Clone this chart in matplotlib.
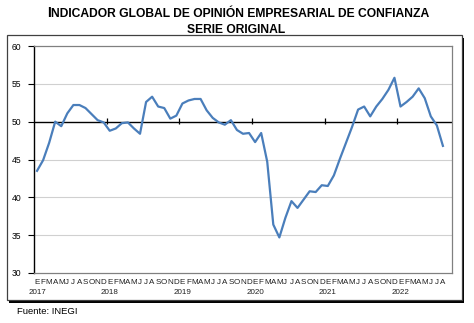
import matplotlib
matplotlib.use("Agg")
import matplotlib.pyplot as plt
from matplotlib.patches import Rectangle
import matplotlib.transforms as mtransforms

plt.rcParams['font.family'] = ['Liberation Sans', 'DejaVu Sans']

# Indicador global de opinion empresarial de confianza, ene 2017 - ago 2022
years = ['2017', '2018', '2019', '2020', '2021', '2022']
month_letters = ['E', 'F', 'M', 'A', 'M', 'J', 'J', 'A', 'S', 'O', 'N', 'D']
values = [
    43.5, 44.9, 47.2, 50.0, 49.4, 51.1, 52.2, 52.2, 51.8, 51.0, 50.2, 49.9,   # 2017
    48.8, 49.1, 49.8, 49.9, 49.1, 48.4, 52.6, 53.3, 52.0, 51.8, 50.4, 50.8,   # 2018
    52.4, 52.8, 53.0, 53.0, 51.5, 50.5, 49.9, 49.6, 50.2, 48.9, 48.4, 48.5,   # 2019
    47.3, 48.5, 44.7, 36.4, 34.7, 37.3, 39.5, 38.6, 39.7, 40.8, 40.7, 41.6,   # 2020
    41.5, 42.9, 45.1, 47.2, 49.3, 51.6, 52.0, 50.7, 52.0, 53.0, 54.2, 55.8,   # 2021
    52.0, 52.6, 53.3, 54.4, 53.1, 50.7, 49.5, 46.8,                           # 2022
]
yticks = [30, 35, 40, 45, 50, 55, 60]

W, H = 474, 323
fig = plt.figure(figsize=(W / 100, H / 100), dpi=100)

def fx(px):
    return px / W

def fy(py):
    return 1 - py / H

# chart frame with drop shadow
fig.patches.append(Rectangle((fx(9), fy(303)), fx(455) - fx(0), fy(35) - fy(300),
                             transform=fig.transFigure, facecolor='black',
                             edgecolor='none', zorder=0))
fig.patches.append(Rectangle((fx(7), fy(300)), fx(455) - fx(0), fy(35) - fy(300),
                             transform=fig.transFigure, facecolor='white',
                             edgecolor='#404040', linewidth=0.9, zorder=1))

ax = fig.add_axes([fx(34), fy(273), fx(452) - fx(34), fy(46) - fy(273)])
ax.set_zorder(2)

n = len(values)
x = list(range(n))
ax.plot(x, values, color='#4A7EBB', linewidth=1.6, zorder=3,
        solid_joinstyle='round')

ax.set_xlim(-0.5, 68.5)
ax.set_ylim(30, 60)

# gridlines and the category axis crossing at 50
for v in yticks:
    if v in (30, 60):
        continue
    if v == 50:
        ax.axhline(v, color='black', linewidth=1.0, zorder=2)
    else:
        ax.axhline(v, color='#D0D0D0', linewidth=0.8, zorder=1)

# year separators on the 50 line
for k in range(1, len(years)):
    ax.vlines(12 * k - 0.5, 49.75, 50.45, color='black', linewidth=0.9, zorder=2)

ax.set_yticks(yticks)
ax.set_yticklabels([str(v) for v in yticks], fontsize=6.2)
ax.tick_params(axis='y', direction='out', length=4, width=0.8, pad=5)
ax.set_xticks([])

for side in ['top', 'right', 'bottom']:
    ax.spines[side].set_color('#808080')
    ax.spines[side].set_linewidth(0.9)
ax.spines['left'].set_color('black')
ax.spines['left'].set_linewidth(1.0)

# month letters and year labels below the plot
trans = mtransforms.blended_transform_factory(ax.transData, ax.transAxes)
for i in range(n):
    ax.text(i, -0.04, month_letters[i % 12], transform=trans, ha='center',
            va='center', fontsize=5.8, color='#202020')
for k, yr in enumerate(years):
    ax.text(12 * k, -0.088, yr, transform=trans, ha='center', va='center',
            fontsize=5.8, color='#202020')

# title
fig.text(fx(51), fy(17), 'I', ha='right', va='baseline', fontsize=10,
         fontweight='bold')
fig.text(fx(51), fy(17), 'NDICADOR GLOBAL DE OPINIÓN EMPRESARIAL DE CONFIANZA',
         ha='left', va='baseline', fontsize=8.7, fontweight='bold')
fig.text(fx(236), fy(33), 'SERIE ORIGINAL', ha='center', va='baseline',
         fontsize=8.7, fontweight='bold')

fig.text(fx(17), fy(311), 'Fuente: INEGI', ha='left', va='center', fontsize=6.8)

fig.savefig('out.png', dpi=100)
